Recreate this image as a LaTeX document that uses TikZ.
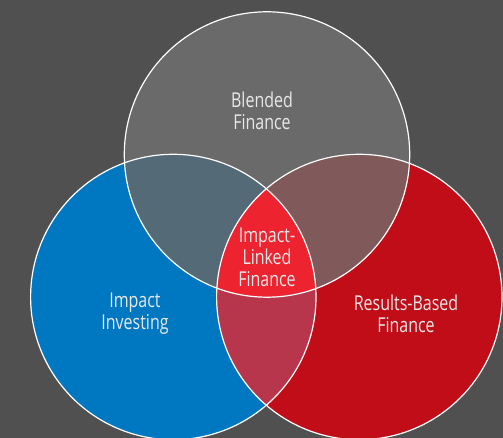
\documentclass[tikz,border=0pt]{standalone}
\usepackage{fontspec}
\setmainfont{Open Sans}[FakeStretch=0.78]
\definecolor{bgcol}{HTML}{505050}
\definecolor{grycol}{HTML}{6A6A6A}
\definecolor{blucol}{HTML}{0078C1}
\definecolor{redcol}{HTML}{C00D18}
\definecolor{blugry}{HTML}{546A77}
\definecolor{redgry}{HTML}{805A5B}
\definecolor{blured}{HTML}{B7364B}
\definecolor{midcol}{HTML}{EE2330}
\definecolor{txtcol}{HTML}{E8E8E8}

\begin{document}
\begin{tikzpicture}[x=1pt,y=1pt,
		setlabel/.style={text=txtcol,align=center,inner sep=0pt,
			font=\fontsize{20.5}{21.8}\selectfont},
		rim/.style={draw=white,line width=1.2pt}
		]
		\fill[bgcol] (0,0) rectangle (503,438);
		\useasboundingbox (0,0) rectangle (503,438);
		\def\rad{142.7}
		\coordinate (Bl) at (267,283.5);
		\coordinate (Iv) at (173.3,141);
		\coordinate (Rb) at (359.3,141);
		
		\fill[grycol] (Bl) circle (\rad);
		\fill[blucol] (Iv) circle (\rad);
		\fill[redcol] (Rb) circle (\rad);
		\begin{scope}
			\clip (Iv) circle (\rad);
			\fill[blured] (Rb) circle (\rad);
		\end{scope}
		\begin{scope}
			\clip (Bl) circle (\rad);
			\fill[blugry] (Iv) circle (\rad);
			\fill[redgry] (Rb) circle (\rad);
			\clip (Iv) circle (\rad);
			\fill[midcol] (Rb) circle (\rad);
		\end{scope}
		
		\draw[rim] (Bl) circle (\rad);
		\draw[rim] (Iv) circle (\rad);
		\draw[rim] (Rb) circle (\rad);
		
		\node[setlabel] (BF) at (262,327) {Blended\\Finance};
		\node[setlabel] (II) at (135,124) {Impact\\Investing};
		\node[setlabel] (RB) at (406,124) {Results-Based\\Finance};
		\node[setlabel] (IL) at (267,181) {Impact-\\Linked\\Finance};
	\end{tikzpicture}
\end{document}
